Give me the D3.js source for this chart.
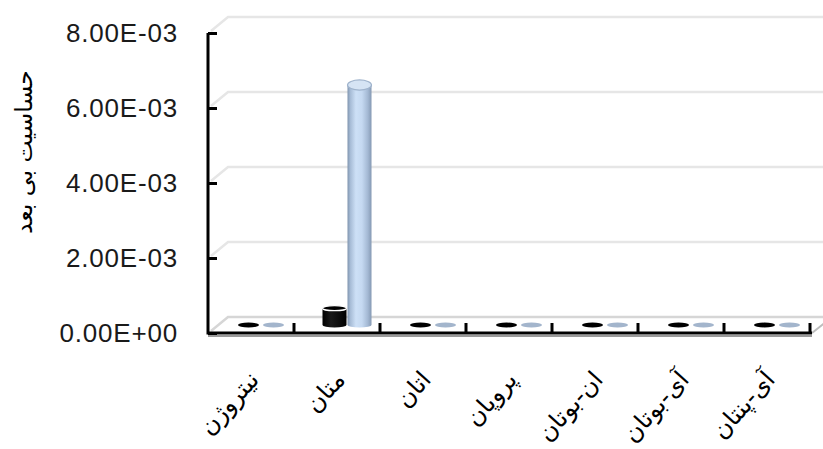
<!DOCTYPE html>
<html>
<head>
<meta charset="utf-8">
<script src="https://cdn.jsdelivr.net/npm/d3@7"></script>
<style>
  html, body { margin: 0; padding: 0; background: #fff; }
  svg { display: block; }
</style>
</head>
<body>
<svg id="chart" width="823" height="449"></svg>
<script>
// Gas components on the category axis
const categories = ["نیتروژن", "متان", "اتان", "پروپان", "ان-بوتان", "آی-بوتان", "آی-پنتان"];
// Two sensitivity series (dimensionless)
const seriesNames = ["s1", "s2"];
const seriesDark = [0.00001, 0.00045, 0.00001, 0.00001, 0.00001, 0.00001, 0.00001];
const seriesLight = [0.00001, 0.0064, 0.00001, 0.00001, 0.00001, 0.00001, 0.00001];
// Value axis
const yTicks = [0, 0.002, 0.004, 0.006, 0.008];
const yTickLabels = ["0.00E+00", "2.00E-03", "4.00E-03", "6.00E-03", "8.00E-03"];
const yTitle = "حساسیت بی بعد";

const svg = d3.select("#chart");
const W = 823;

// Plot frame and the oblique depth used for the pseudo-3D look
const left = 208, right = 810, base = 333;
const depthX = 20, depthY = -16;
const midX = depthX / 2, midY = depthY / 2;

const y = d3.scaleLinear().domain([0, 0.008]).range([base, 33]);
const x = d3.scaleBand().domain(categories).range([left, right]).padding(0);
const xs = d3.scaleBand().domain(seriesNames).range([18, 68]).padding(0);

const defs = svg.append("defs");
function hGrad(id, stops) {
  const g = defs.append("linearGradient").attr("id", id)
    .attr("x1", "0%").attr("x2", "100%").attr("y1", "0%").attr("y2", "0%");
  stops.forEach(s => g.append("stop").attr("offset", s[0]).attr("stop-color", s[1]));
}
hGrad("gLight", [[0, "#7f94ae"], [0.12, "#a7bcd6"], [0.35, "#cde0f6"], [0.6, "#c5d9f1"], [0.85, "#a3b8d3"], [1, "#8599b3"]]);
hGrad("gDark", [[0, "#000"], [0.35, "#1a1a1a"], [0.6, "#111"], [1, "#000"]]);

// Back wall gridlines (including the floor back edge)
const grid = svg.append("g");
yTicks.forEach(t => {
  const yy = y(t);
  grid.append("path")
    .attr("d", `M${left + 3},${yy - 2} L${left + depthX},${yy + depthY} L${W},${yy + depthY}`)
    .attr("fill", "none")
    .attr("stroke", t === 0 ? "#d6d6d6" : "#e6e6e6")
    .attr("stroke-width", 2.5);
});

// Floor right edge
svg.append("path")
  .attr("d", `M${right + 2},${base} L${right + 2 + depthX},${base + depthY}`)
  .attr("stroke", "#bdbdbd").attr("stroke-width", 2).attr("fill", "none");

// Cylinders
const ry = yy => 2.4 + (base + midY - yy) * 0.011;
const rx = xs.bandwidth() / 2 - 0.5;
const bars = svg.append("g");

function cylinder(cx, v, light) {
  const yb = y(0) + midY;
  const yt = y(v) + midY;
  const rb = ry(yb), rt = ry(yt);
  const g = bars.append("g");
  if (yb - yt < 2) {
    g.append("ellipse").attr("cx", cx).attr("cy", yb).attr("rx", rx - 1.5).attr("ry", rb)
      .attr("fill", light ? "#a3b5cc" : "#000");
    return;
  }
  g.append("path")
    .attr("d", `M${cx - rx},${yt} L${cx - rx},${yb} A${rx},${rb} 0 0 0 ${cx + rx},${yb} L${cx + rx},${yt} Z`)
    .attr("fill", light ? "url(#gLight)" : "url(#gDark)");
  g.append("ellipse").attr("cx", cx).attr("cy", yt).attr("rx", rx).attr("ry", rt)
    .attr("fill", light ? "#d6e4f4" : "#000")
    .attr("stroke", light ? "#9fb3cc" : "#fff")
    .attr("stroke-width", 1.2);
}

categories.forEach((c, i) => {
  cylinder(x(c) + xs("s1") + xs.bandwidth() / 2 + midX, seriesDark[i], false);
  cylinder(x(c) + xs("s2") + xs.bandwidth() / 2 + midX, seriesLight[i], true);
});

// Category axis: front floor edge with separators
svg.append("line")
  .attr("x1", left).attr("x2", right + 2).attr("y1", base + 3).attr("y2", base + 3)
  .attr("stroke", "#9a9a9a").attr("stroke-width", 2);
svg.append("line")
  .attr("x1", left).attr("x2", right + 2).attr("y1", base).attr("y2", base)
  .attr("stroke", "#000").attr("stroke-width", 3);
categories.forEach(c => {
  const xx = x(c) + x.bandwidth();
  svg.append("line")
    .attr("x1", xx).attr("x2", xx).attr("y1", base).attr("y2", base - 10)
    .attr("stroke", "#000").attr("stroke-width", 3);
});

// Category labels, rotated
svg.append("g").selectAll("text").data(categories).join("text")
  .attr("transform", d => `translate(${x(d) + x.bandwidth() / 2 + 3},${base + 42}) rotate(-48)`)
  .attr("text-anchor", "end")
  .attr("dy", "0.35em")
  .attr("font-family", "'DejaVu Sans', sans-serif")
  .attr("font-size", 24)
  .attr("fill", "#000")
  .text(d => d);

// Value axis
const yAxis = d3.axisLeft(y)
  .tickValues(yTicks)
  .tickFormat((d, i) => yTickLabels[i])
  .tickSizeInner(-9)
  .tickSizeOuter(0)
  .tickPadding(30);
const ya = svg.append("g").attr("transform", `translate(${left},0)`).call(yAxis);
ya.select(".domain").attr("stroke", "#000").attr("stroke-width", 3)
  .attr("d", `M0,${y(0.008)}V${base + 1.5}`);
ya.selectAll(".tick line").attr("stroke", "#000").attr("stroke-width", 3);
ya.selectAll(".tick text")
  .attr("font-family", "'Liberation Sans', Arial, sans-serif")
  .attr("font-size", 26)
  .attr("letter-spacing", 0.8)
  .attr("fill", "#1a1a1a");

// Value axis title
svg.append("text")
  .attr("transform", `translate(24,152) rotate(-90)`)
  .attr("text-anchor", "middle")
  .attr("dy", "0.35em")
  .attr("font-family", "'DejaVu Sans', sans-serif")
  .attr("font-size", 23.5)
  .attr("fill", "#000")
  .text(yTitle);
</script>
</body>
</html>
